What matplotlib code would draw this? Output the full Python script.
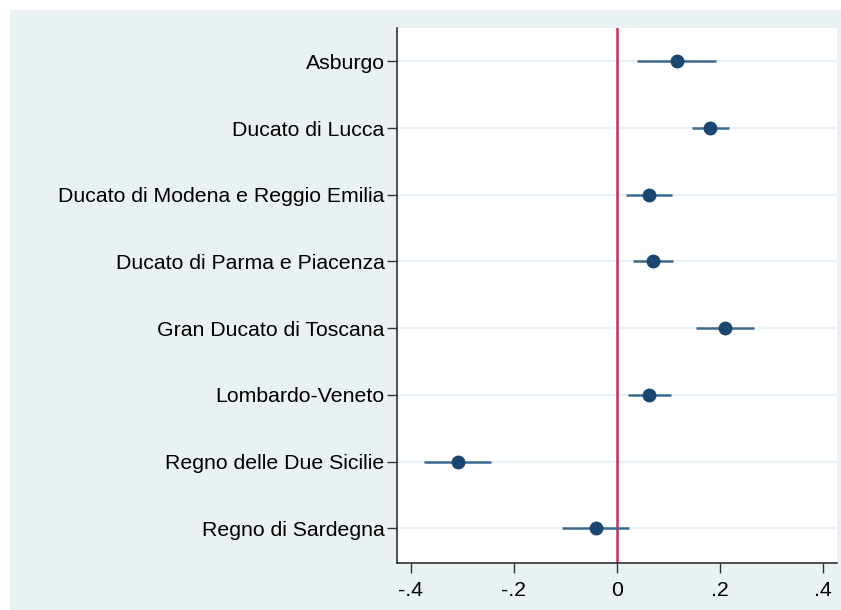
import numpy as np
import matplotlib.pyplot as plt
from matplotlib.patches import Rectangle

# coefficients with confidence intervals
labels = ["Asburgo", "Ducato di Lucca", "Ducato di Modena e Reggio Emilia",
          "Ducato di Parma e Piacenza", "Gran Ducato di Toscana",
          "Lombardo-Veneto", "Regno delle Due Sicilie", "Regno di Sardegna"]
coef = [0.116, 0.181, 0.062, 0.070, 0.210, 0.063, -0.309, -0.041]
ci_low = [0.038, 0.145, 0.017, 0.032, 0.153, 0.022, -0.374, -0.107]
ci_high = [0.192, 0.218, 0.107, 0.109, 0.266, 0.104, -0.245, 0.024]
xticks = [-0.4, -0.2, 0, 0.2, 0.4]
xticklabels = ["-.4", "-.2", "0", ".2", ".4"]

bg = "#e9f1f3"
navy = "#1a476f"
ci_col = "#3d6a8e"
red = "#c8305a"

plt.rcParams['font.family'] = ['Liberation Sans', 'DejaVu Sans']

fig = plt.figure(figsize=(8.41, 6.10), dpi=100)
fig.patch.set_facecolor("white")
# light graph region, offset like the screenshot
fig.patches.append(Rectangle((10/841, 0), 1 - 10/841, 1 - 10/610,
                             transform=fig.transFigure, facecolor=bg,
                             edgecolor="none", zorder=-10))

ax = fig.add_axes([397/841, 1 - 563/610, (837 - 397)/841, (563 - 28)/610])
ax.set_facecolor("white")

y = np.arange(1, len(labels) + 1)
for yi in y:
    ax.axhline(yi, color="#eaf2f3", lw=1.6, zorder=0)

ax.axvline(0, color=red, lw=1.8, zorder=1)
ax.hlines(y, ci_low, ci_high, color=ci_col, lw=1.8, zorder=2)
ax.plot(coef, y, "o", color=navy, ms=9, zorder=3)

ax.set_xlim(-0.427, 0.427)
ax.set_ylim(8.52, 0.5)
ax.set_yticks(y)
ax.set_yticklabels(labels, fontsize=15.3)
ax.set_xticks(xticks)
ax.set_xticklabels(xticklabels, fontsize=15.3)
ax.tick_params(axis="y", length=7, width=1, color="#333333", pad=2)
ax.tick_params(axis="x", length=7, width=1, color="#333333", pad=6)

for s in ["top", "right"]:
    ax.spines[s].set_visible(False)
for s in ["left", "bottom"]:
    ax.spines[s].set_color("#222222")
    ax.spines[s].set_linewidth(1.1)

fig.savefig("out.png", dpi=100)
